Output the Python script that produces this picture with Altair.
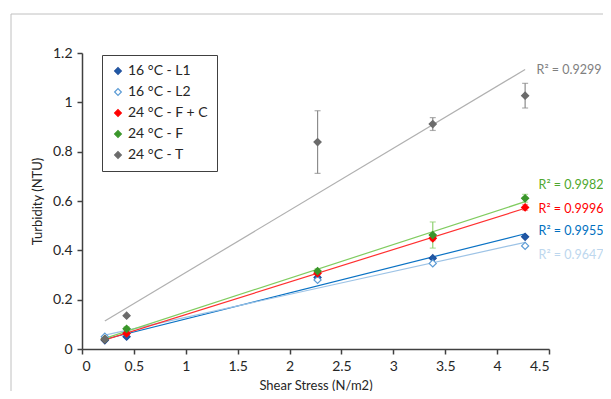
import altair as alt
import pandas as pd

# ---- data ----
series = ["16 °C - L1", "16 °C - L2", "24 °C - F + C", "24 °C - F", "24 °C - T"]
shear = [0.22, 0.43, 2.27, 3.38, 4.27]
turb_L1 = [0.035, 0.050, 0.290, 0.368, 0.455]
turb_L2 = [0.050, 0.065, 0.280, 0.347, 0.418]
turb_FC = [0.040, 0.063, 0.307, 0.449, 0.574]
turb_F = [0.040, 0.082, 0.316, 0.462, 0.611]
turb_T = [0.040, 0.135, 0.839, 0.912, 1.027]
err_L1 = [0, 0, 0, 0, 0]
err_L2 = [0, 0, 0, 0, 0]
err_FC = [0, 0, 0.008, 0.010, 0.012]
err_F = [0, 0.008, 0.010, 0.053, 0.016]
err_T = [0, 0, 0.127, 0.026, 0.050]
r2_values = ["0.9955", "0.9647", "0.9996", "0.9982", "0.9299"]

# ---- styling / layout (not data) ----
marker_stroke = ["#1f4f9c", "#5b9bd5", "#ff0000", "#3a962a", "#6b6b6b"]
marker_fill = ["#1f5aa8", "#ffffff", "#ff0000", "#3a962a", "#6b6b6b"]
line_colors = ["#0a72c4", "#9dc3e6", "#ff3030", "#80cc60", "#b0b0b0"]
err_colors = ["#6fa8dc", "#9dc3e6", "#f08080", "#8fd070", "#8c8c8c"]
text_colors = ["#0070c0", "#bdd7ee", "#ff0000", "#4ea72e", "#808080"]
label_x = [4.40, 4.40, 4.40, 4.40, 4.38]
label_y = [0.478, 0.381, 0.567, 0.664, 1.131]
FONT = "Lato"

all_y = [turb_L1, turb_L2, turb_FC, turb_F, turb_T]
all_e = [err_L1, err_L2, err_FC, err_F, err_T]
rows = []
for s, ys, es in zip(series, all_y, all_e):
    for x, y, e in zip(shear, ys, es):
        rows.append({"series": s, "x": x, "y": y, "lo": y - e, "hi": y + e, "err": e})
df = pd.DataFrame(rows)
df_lab = pd.DataFrame({
    "series": series,
    "x": label_x,
    "y": label_y,
    "label": ["R² = " + r for r in r2_values],
})

xs = alt.Scale(domain=[0, 4.5], nice=False)
ys = alt.Scale(domain=[0, 1.2], nice=False)

x_axis = alt.Axis(values=[0, 0.5, 1, 1.5, 2, 2.5, 3, 3.5, 4, 4.5], format="~g",
                  grid=False, title="Shear Stress (N/m2)", titlePadding=6)
y_axis = alt.Axis(values=[0, 0.2, 0.4, 0.6, 0.8, 1.0, 1.2], format="~g",
                  grid=False, title="Turbidity (NTU)", titlePadding=8)

base = alt.Chart(df)

frame = alt.Chart(pd.DataFrame({"k": [0]})).mark_rect(
    fill=None, stroke="#c0c0c0", strokeWidth=1, clip=False
).encode(
    x=alt.value(-71), x2=alt.value(600), y=alt.value(-39), y2=alt.value(400)
)

lines = base.transform_regression(
    "x", "y", groupby=["series"]
).mark_line(strokeWidth=1.2).encode(
    x=alt.X("x:Q", scale=xs, axis=x_axis),
    y=alt.Y("y:Q", scale=ys, axis=y_axis),
    stroke=alt.Stroke("series:N", scale=alt.Scale(domain=series, range=line_colors), legend=None),
)

eb = base.transform_filter("datum.err > 0")
err_rule = eb.mark_rule(strokeWidth=1.2).encode(
    x="x:Q", y="lo:Q", y2="hi:Q",
    stroke=alt.Stroke("series:N", scale=alt.Scale(domain=series, range=err_colors), legend=None),
)
cap_lo = eb.mark_tick(orient="horizontal", size=6, thickness=1.2).encode(
    x="x:Q", y="lo:Q",
    color=alt.Color("series:N", scale=alt.Scale(domain=series, range=err_colors), legend=None),
)
cap_hi = eb.mark_tick(orient="horizontal", size=6, thickness=1.2).encode(
    x="x:Q", y="hi:Q",
    color=alt.Color("series:N", scale=alt.Scale(domain=series, range=err_colors), legend=None),
)

legend = alt.Legend(
    title=None, orient="none", legendX=20, legendY=2,
    symbolType="diamond", symbolSize=45, symbolStrokeWidth=1.2,
    labelFont=FONT, labelFontSize=14, labelColor="#262626",
    rowPadding=7, padding=9, strokeColor="#404040", fillColor="#ffffff",
    labelOffset=3,
)
points = base.mark_point(shape="diamond", size=50, strokeWidth=1.2, opacity=1).encode(
    x="x:Q", y="y:Q",
    stroke=alt.Stroke("series:N", scale=alt.Scale(domain=series, range=marker_stroke), legend=legend),
    fill=alt.Fill("series:N", scale=alt.Scale(domain=series, range=marker_fill), legend=legend),
)

labels = alt.Chart(df_lab).mark_text(align="left", baseline="middle", font=FONT, fontSize=12.5).encode(
    x="x:Q", y="y:Q", text="label:N",
    color=alt.Color("series:N", scale=alt.Scale(domain=series, range=text_colors), legend=None),
)

chart = alt.layer(frame, lines, err_rule, cap_lo, cap_hi, points, labels).resolve_scale(
    stroke="independent", color="independent", fill="independent"
).properties(
    width=467, height=296,
    autosize=alt.AutoSizeParams(type="none"),
    padding={"left": 74, "top": 45, "right": 54, "bottom": 42},
).configure_view(stroke=None).configure_axis(
    domainColor="#404040", domainWidth=1.5, tickColor="#404040", tickWidth=1.5, tickSize=5,
    labelFont=FONT, labelFontSize=14, labelColor="#262626", labelPadding=5,
    titleFont=FONT, titleFontSize=13, titleColor="#262626", titleFontWeight="normal",
)

chart.save("out.html", embed_options={"renderer": "svg", "actions": False})
